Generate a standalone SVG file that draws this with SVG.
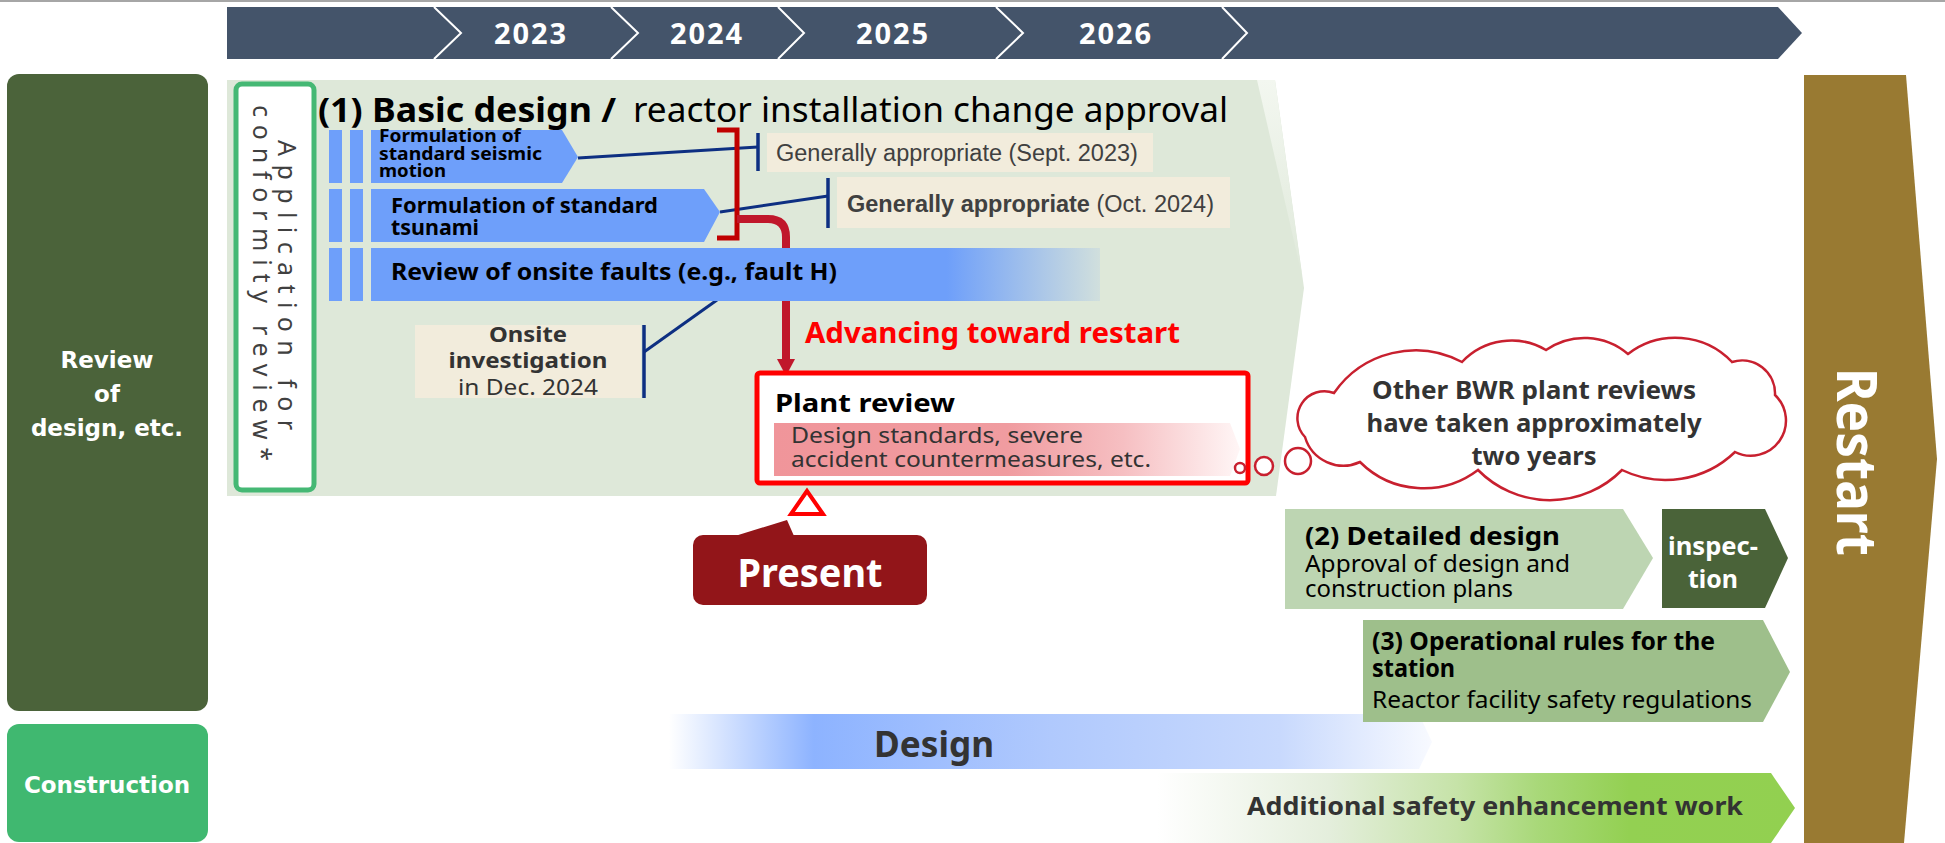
<svg xmlns="http://www.w3.org/2000/svg" width="1945" height="843" viewBox="0 0 1945 843">
<defs>
<style>
text { font-family: "Noto Sans", "Open Sans", "Liberation Sans", sans-serif; }
.b { font-weight: 700; }
.year { fill: #ffffff; font-size: 29px; font-weight: 700; text-anchor: middle; }
.side { font-family: "DejaVu Sans", "Liberation Sans", sans-serif; font-weight: 700; font-size: 23px; fill: #ffffff; text-anchor: middle; }
.blue { fill: #6e9ffa; }
.beige { fill: #f2ecdc; }
.navy { stroke: #0d2f82; stroke-width: 3; fill: none; }
.tick { stroke: #0d2f82; stroke-width: 3.5; fill: none; }
.arial { font-family: "Liberation Sans", Arial, sans-serif; font-size: 23.5px; fill: #404040; }
.dk { fill: #333333; }
.blk { fill: #000000; }
.wht { fill: #ffffff; }
.chev { stroke: #ffffff; stroke-width: 2; fill: none; }
.bubble { fill: #ffffff; stroke: #c8202f; stroke-width: 2.5; }
</style>
<linearGradient id="gRow3" gradientUnits="userSpaceOnUse" x1="371" y1="0" x2="1100" y2="0">
<stop offset="0" stop-color="#6e9ffa"/>
<stop offset="0.79" stop-color="#6e9ffa"/>
<stop offset="1" stop-color="#6e9ffa" stop-opacity="0.12"/>
</linearGradient>
<linearGradient id="gPink" gradientUnits="userSpaceOnUse" x1="774" y1="0" x2="1240" y2="0">
<stop offset="0" stop-color="#f0959a"/>
<stop offset="0.5" stop-color="#f09ca0"/>
<stop offset="0.75" stop-color="#f6bfc2"/>
<stop offset="1" stop-color="#fff6f6"/>
</linearGradient>
<linearGradient id="gDesign" gradientUnits="userSpaceOnUse" x1="669" y1="0" x2="1432" y2="0">
<stop offset="0" stop-color="#ffffff"/>
<stop offset="0.19" stop-color="#8db3ff"/>
<stop offset="0.5" stop-color="#b0c9fd"/>
<stop offset="0.8" stop-color="#c8d9fd"/>
<stop offset="1" stop-color="#f8faff"/>
</linearGradient>
<linearGradient id="gAdd" gradientUnits="userSpaceOnUse" x1="1157" y1="0" x2="1795" y2="0">
<stop offset="0" stop-color="#ffffff"/>
<stop offset="0.27" stop-color="#e4eedc"/>
<stop offset="0.47" stop-color="#c6e3a8"/>
<stop offset="0.6" stop-color="#a8d878"/>
<stop offset="0.74" stop-color="#93d052"/>
<stop offset="1" stop-color="#92d050"/>
</linearGradient>
<linearGradient id="gEdge" gradientUnits="userSpaceOnUse" x1="0" y1="80" x2="0" y2="290">
<stop offset="0" stop-color="#f3f7f0"/>
<stop offset="1" stop-color="#dee8d9"/>
</linearGradient>
<marker id="redArrow" markerUnits="userSpaceOnUse" markerWidth="17" markerHeight="18" viewBox="0 0 17 18" refX="1" refY="9" orient="auto">
<path d="M0,0 L17,9 L0,18 Z" fill="#c0172b"/>
</marker>
</defs>

<rect x="0" y="0" width="1945" height="2" fill="#a6a6a6"/>

<g id="timeline">
<polygon points="227,7 1778,7 1802,33 1778,59 227,59" fill="#44546a"/>
<polyline class="chev" points="434,7 461,33 434,59"/>
<polyline class="chev" points="611,7 638,33 611,59"/>
<polyline class="chev" points="778,7 804,33 778,59"/>
<polyline class="chev" points="996,7 1023,33 996,59"/>
<polyline class="chev" points="1222,7 1247,33 1222,59"/>
<text class="year" x="530" y="44" textLength="72">2023</text>
<text class="year" x="706" y="44" textLength="72">2024</text>
<text class="year" x="892" y="44" textLength="72">2025</text>
<text class="year" x="1115" y="44" textLength="72">2026</text>
</g>

<g id="review-label">
<rect x="7" y="74" width="201" height="637" rx="12" fill="#4b633a"/>
<text class="side" x="107" y="368">Review</text>
<text class="side" x="107" y="402">of</text>
<text class="side" x="107" y="436">design, etc.</text>
</g>

<g id="construction-label">
<rect x="7" y="724" width="201" height="118" rx="12" fill="#40b870"/>
<text class="side" x="107" y="793">Construction</text>
</g>

<g id="basic-design-panel">
<polygon points="227,80 1275,80 1304,288 1276,496 227,496" fill="#dee8d9"/>
<polygon points="1257,80 1275,80 1302,276" fill="url(#gEdge)"/>
<text class="b blk" x="318" y="121.5" font-size="34" textLength="298" lengthAdjust="spacingAndGlyphs">(1) Basic design /</text>
<text class="blk" x="633" y="121.5" font-size="34" textLength="595" lengthAdjust="spacingAndGlyphs">reactor installation change approval</text>
</g>

<g id="conformity-application">
<rect x="236" y="84" width="78" height="406" rx="6" fill="#ffffff" stroke="#45b874" stroke-width="5"/>
<g transform="translate(278,285) rotate(90)">
<text x="0" y="0" text-anchor="middle" font-family="Liberation Mono, monospace" font-size="25" fill="#404040" textLength="290" lengthAdjust="spacing">Application for</text>
<text x="-2" y="25" text-anchor="middle" font-family="Liberation Mono, monospace" font-size="25" fill="#404040" textLength="356" lengthAdjust="spacing">conformity review*</text>
</g>
</g>

<g id="connectors">
<line class="navy" x1="578" y1="158" x2="758" y2="147"/>
<line class="tick" x1="758" y1="133" x2="758" y2="171"/>
<line class="navy" x1="720" y1="212" x2="828" y2="196"/>
<line class="tick" x1="828" y1="178" x2="828" y2="228"/>
<line class="navy" x1="717" y1="300" x2="644" y2="352"/>
<line class="tick" x1="644" y1="325" x2="644" y2="398"/>
<path d="M717,130 L737,130 L737,238 L717,238" fill="none" stroke="#c00000" stroke-width="5"/>
<path d="M737,219 H768 Q786,219 786,237 V360" fill="none" stroke="#c0172b" stroke-width="8" marker-end="url(#redArrow)"/>
</g>

<g id="row-seismic">
<rect class="blue" x="329" y="130" width="13" height="53"/>
<rect class="blue" x="350" y="130" width="13" height="53"/>
<polygon class="blue" points="371,130 562,130 578,157 562,183 371,183"/>
<text class="b blk" font-size="18" x="379" y="142" textLength="142" lengthAdjust="spacingAndGlyphs">Formulation of</text>
<text class="b blk" font-size="18" x="379" y="159.5" textLength="163" lengthAdjust="spacingAndGlyphs">standard seismic</text>
<text class="b blk" font-size="18" x="379" y="177" textLength="67" lengthAdjust="spacingAndGlyphs">motion</text>
</g>

<g id="row-tsunami">
<rect class="blue" x="329" y="189" width="13" height="53"/>
<rect class="blue" x="350" y="189" width="13" height="53"/>
<polygon class="blue" points="371,189 704,189 720,212 704,242 371,242"/>
<text class="b blk" font-size="21" x="391" y="213" textLength="267" lengthAdjust="spacingAndGlyphs">Formulation of standard</text>
<text class="b blk" font-size="21" x="391" y="234.5" textLength="88" lengthAdjust="spacingAndGlyphs">tsunami</text>
</g>

<g id="row-faults">
<rect class="blue" x="329" y="248" width="13" height="53"/>
<rect class="blue" x="350" y="248" width="13" height="53"/>
<rect x="371" y="248" width="729" height="53" fill="url(#gRow3)"/>
<text class="b blk" font-size="23" x="391" y="280" textLength="446" lengthAdjust="spacingAndGlyphs">Review of onsite faults (e.g., fault H)</text>
</g>

<g id="approval-sept-2023">
<rect class="beige" x="767" y="133" width="386" height="39"/>
<text class="arial" x="776" y="160.5">Generally appropriate (Sept. 2023)</text>
</g>

<g id="approval-oct-2024">
<rect class="beige" x="837" y="177" width="393" height="51"/>
<text class="arial" x="847" y="211.5"><tspan font-weight="700">Generally appropriate</tspan> (Oct. 2024)</text>
</g>

<g id="onsite-investigation">
<rect class="beige" x="415" y="325" width="226" height="73"/>
<text class="b dk" font-size="22" x="528" y="341.5" text-anchor="middle" textLength="78" lengthAdjust="spacingAndGlyphs">Onsite</text>
<text class="b dk" font-size="22" x="528" y="368" text-anchor="middle" textLength="159" lengthAdjust="spacingAndGlyphs">investigation</text>
<text class="dk" font-size="22" x="528" y="395" text-anchor="middle" textLength="140" lengthAdjust="spacingAndGlyphs">in Dec. 2024</text>
</g>

<g id="advancing-label">
<text class="b" fill="#ff0000" font-size="28" x="805" y="343" textLength="375" lengthAdjust="spacingAndGlyphs">Advancing toward restart</text>
</g>

<g id="plant-review">
<rect x="757" y="373" width="491" height="110" rx="3" fill="#ffffff" stroke="#ff0000" stroke-width="5"/>
<text class="b blk" font-size="25" x="775" y="412" textLength="180" lengthAdjust="spacingAndGlyphs">Plant review</text>
<polygon points="774,423 1230,423 1240,449 1230,476 774,476" fill="url(#gPink)"/>
<text class="dk" font-size="22" x="791" y="443" textLength="292" lengthAdjust="spacingAndGlyphs">Design standards, severe</text>
<text class="dk" font-size="22" x="791" y="467" textLength="360" lengthAdjust="spacingAndGlyphs">accident countermeasures, etc.</text>
</g>

<g id="present">
<polygon points="807,491 791,514 823,514" fill="#ffffff" stroke="#ff0000" stroke-width="4" stroke-linejoin="miter"/>
<polygon points="735,536 787,520 794,536" fill="#921519"/>
<rect x="693" y="535" width="234" height="70" rx="10" fill="#921519"/>
<text class="b wht" font-size="39" x="810" y="587" text-anchor="middle" textLength="145" lengthAdjust="spacingAndGlyphs">Present</text>
</g>

<g id="bwr-note">
<path class="bubble" d="M1334,393 A99,99 0 0 1 1462,362 A68,68 0 0 1 1546,350 A67,67 0 0 1 1628,354 A78,78 0 0 1 1732,362 A33,33 0 0 1 1775,395 A35.2,35.2 0 0 1 1735,452 A100,100 0 0 1 1622,470 A101,101 0 0 1 1478,470 A90,90 0 0 1 1360,462 A40,40 0 0 1 1305,437 A27,27 0 0 1 1334,393 Z"/>
<circle class="bubble" cx="1240" cy="468" r="5"/>
<circle class="bubble" cx="1264" cy="466" r="9"/>
<circle class="bubble" cx="1298" cy="461" r="13"/>
<text class="b dk" font-size="25" x="1534" y="399" text-anchor="middle" textLength="324" lengthAdjust="spacingAndGlyphs">Other BWR plant reviews</text>
<text class="b dk" font-size="25" x="1534" y="432" text-anchor="middle" textLength="335" lengthAdjust="spacingAndGlyphs">have taken approximately</text>
<text class="b dk" font-size="25" x="1534" y="465" text-anchor="middle" textLength="125" lengthAdjust="spacingAndGlyphs">two years</text>
</g>

<g id="detailed-design">
<polygon points="1285,509 1623,509 1653,558 1623,609 1285,609" fill="#bdd5b2"/>
<text class="b blk" font-size="25" x="1305" y="545" textLength="255" lengthAdjust="spacingAndGlyphs">(2) Detailed design</text>
<text class="blk" font-size="23" x="1305" y="571.5" textLength="265" lengthAdjust="spacingAndGlyphs">Approval of design and</text>
<text class="blk" font-size="23" x="1305" y="597" textLength="208" lengthAdjust="spacingAndGlyphs">construction plans</text>
</g>

<g id="inspection">
<polygon points="1662,509 1765,509 1788,558 1765,608 1662,608" fill="#4a6339"/>
<text class="b wht" font-size="25" x="1713" y="555" text-anchor="middle" textLength="90" lengthAdjust="spacingAndGlyphs">inspec-</text>
<text class="b wht" font-size="25" x="1713" y="588" text-anchor="middle" textLength="50" lengthAdjust="spacingAndGlyphs">tion</text>
</g>

<g id="design-bar">
<polygon points="669,714 1419,714 1432,742 1419,769 669,769" fill="url(#gDesign)"/>
<text class="b dk" font-size="35" x="934" y="757" text-anchor="middle" textLength="120" lengthAdjust="spacingAndGlyphs">Design</text>
</g>

<g id="operational-rules">
<polygon points="1363,620 1763,620 1790,672 1763,722 1363,722" fill="#9ebf8b"/>
<text class="b blk" font-size="25" x="1372" y="650" textLength="343" lengthAdjust="spacingAndGlyphs">(3) Operational rules for the</text>
<text class="b blk" font-size="25" x="1372" y="677" textLength="83" lengthAdjust="spacingAndGlyphs">station</text>
<text class="blk" font-size="23" x="1372" y="708" textLength="380" lengthAdjust="spacingAndGlyphs">Reactor facility safety regulations</text>
</g>

<g id="safety-work">
<polygon points="1157,773 1771,773 1795,808 1771,843 1157,843" fill="url(#gAdd)"/>
<text class="b dk" font-size="25" x="1247" y="815" textLength="496" lengthAdjust="spacingAndGlyphs">Additional safety enhancement work</text>
</g>

<g id="restart">
<polygon points="1804,75 1906,75 1937,459 1904,843 1804,843" fill="#997a32"/>
<text class="b wht" font-size="56" transform="translate(1837,462) rotate(90)" text-anchor="middle" textLength="188" lengthAdjust="spacingAndGlyphs">Restart</text>
</g>
</svg>
